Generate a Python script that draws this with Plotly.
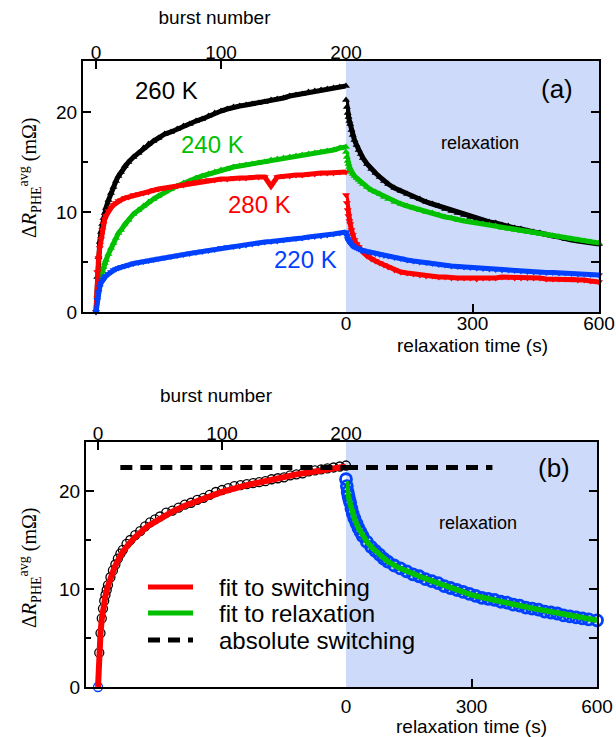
import plotly.graph_objects as go

W, H = 616, 737

# ---- switching (burst) data, panel (a) ----
bursts = [0, 1, 2, 3, 4, 5, 6, 7, 8, 10, 12, 14, 16, 18, 20, 23, 26, 30, 34, 38, 42, 46, 50,
          55, 60, 65, 70, 75, 80, 85, 90, 95, 100, 105, 110, 115, 120, 125, 130, 135, 140,
          145, 150, 155, 160, 165, 170, 175, 180, 185, 190, 195, 200]
sw_260 = [0, 3.5, 5.5, 7.0, 8.0, 8.8, 9.4, 9.9, 10.4, 11.2, 11.9, 12.5, 13.1, 13.6, 14.0,
          14.6, 15.0, 15.5, 15.9, 16.4, 16.8, 17.1, 17.4,
          17.8, 18.0, 18.3, 18.6, 18.8, 19.1, 19.3, 19.6, 19.9, 20.1,
          20.3, 20.5, 20.6, 20.7, 20.8, 20.9, 21.0, 21.2, 21.3, 21.4,
          21.6, 21.7, 21.8, 22.0, 22.1, 22.2, 22.3, 22.4, 22.5, 22.6]
sw_240 = [0, 1.7, 2.5, 3.1, 3.6, 4.1, 4.5, 4.9, 5.2, 5.8, 6.4, 6.9, 7.4, 7.9, 8.2,
          8.8, 9.2, 9.8, 10.2, 10.6, 11.0, 11.3, 11.6,
          12.0, 12.3, 12.6, 12.9, 13.1, 13.4, 13.6, 13.8, 14.0, 14.2,
          14.3, 14.5, 14.6, 14.7, 14.8, 14.9, 15.0, 15.2, 15.3, 15.4,
          15.5, 15.6, 15.7, 15.8, 15.9, 16.0, 16.1, 16.2, 16.4, 16.5]
sw_280 = [0, 4.0, 5.4, 6.4, 7.3, 8.2, 8.8, 9.3, 9.6, 10.1, 10.4, 10.7, 10.9, 11.1, 11.2,
          11.4, 11.5, 11.7, 11.8, 11.9, 12.0, 12.2, 12.3,
          12.4, 12.5, 12.6, 12.7, 12.9, 13.0, 13.1, 13.2, 13.2, 13.3,
          13.3, 13.4, 13.4, 13.4, 13.5, 13.5, 13.5, 12.6, 13.5, 13.6,
          13.6, 13.7, 13.7, 13.8, 13.8, 13.9, 13.9, 13.9, 14.0, 14.0]
sw_220 = [0, 1.2, 2.0, 2.5, 2.9, 3.1, 3.3, 3.5, 3.6, 3.8, 4.0, 4.2, 4.3, 4.4, 4.5,
          4.6, 4.7, 4.85, 4.95, 5.05, 5.15, 5.25, 5.35,
          5.45, 5.55, 5.65, 5.75, 5.85, 5.95, 6.05, 6.15, 6.25, 6.4,
          6.5, 6.55, 6.6, 6.7, 6.8, 6.9, 7.0, 7.05, 7.1, 7.2,
          7.3, 7.35, 7.4, 7.5, 7.55, 7.6, 7.7, 7.8, 7.9, 8.0]

# ---- relaxation data (time after the last burst, s) ----
relax_t = [0, 2, 4, 6, 8, 10, 13, 16, 20, 25, 30, 35, 40, 50, 60, 70, 80, 90, 100,
           115, 130, 145, 160, 175, 190, 205, 220, 235, 250, 265, 280, 295, 310, 325,
           340, 355, 370, 385, 400, 415, 430, 445, 460, 475, 490, 505, 520, 535, 550,
           565, 580, 600]
rx_260 = [21.2, 20.5, 19.9, 19.5, 19.1, 18.8, 18.2, 17.7, 17.2, 16.7, 16.2, 15.8, 15.4,
          14.8, 14.3, 13.9, 13.5, 13.1, 12.8,
          12.4, 12.1, 11.8, 11.5, 11.3, 11.0, 10.8, 10.6, 10.3, 10.1, 9.9, 9.7, 9.5, 9.3,
          9.1, 9.0, 8.9, 8.7, 8.6, 8.4, 8.3, 8.1, 8.0, 7.9, 7.7, 7.6, 7.5, 7.3, 7.2, 7.1,
          7.0, 6.9, 6.8]
rx_240 = [16.0, 15.5, 15.1, 14.8, 14.5, 14.3, 14.0, 13.8, 13.6, 13.4, 13.2, 13.0, 12.8,
          12.5, 12.2, 12.0, 11.8, 11.5, 11.3,
          11.0, 10.8, 10.6, 10.4, 10.2, 10.0, 9.9, 9.7, 9.5, 9.4, 9.2, 9.1, 9.0, 8.9,
          8.8, 8.7, 8.6, 8.4, 8.3, 8.2, 8.1, 8.0, 7.9, 7.8, 7.7, 7.6, 7.5, 7.4, 7.3, 7.2,
          7.1, 7.0, 6.9]
rx_280 = [11.7, 10.9, 10.2, 9.6, 9.1, 8.8, 8.2, 7.7, 7.2, 6.8, 6.5, 6.2, 6.0,
          5.6, 5.3, 5.1, 4.9, 4.7, 4.5,
          4.2, 4.0, 3.9, 3.8, 3.7, 3.6, 3.6, 3.5, 3.5, 3.4, 3.4, 3.4, 3.4, 3.3,
          3.4, 3.4, 3.4, 3.5, 3.5, 3.4, 3.4, 3.4, 3.4, 3.4, 3.3, 3.3, 3.3, 3.3, 3.3, 3.2,
          3.2, 3.1, 3.0]
rx_220 = [7.9, 7.6, 7.3, 7.1, 7.0, 6.9, 6.7, 6.6, 6.5, 6.4, 6.3, 6.2, 6.15,
          6.05, 5.95, 5.85, 5.75, 5.65, 5.6,
          5.45, 5.35, 5.2, 5.1, 5.0, 4.95, 4.85, 4.75, 4.7, 4.6, 4.55, 4.5, 4.45, 4.4,
          4.35, 4.3, 4.25, 4.2, 4.2, 4.15, 4.1, 4.05, 4.0, 4.0, 3.95, 3.95, 3.9, 3.9,
          3.85, 3.8, 3.8, 3.75, 3.7]

# ---- fits to the 260 K curves, panel (b) ----
fit_bursts = [0, 0.5, 1, 1.5, 2, 3, 4, 5, 6, 8, 10, 13, 16, 20, 25, 30, 40, 50, 60, 70,
              80, 90, 100, 120, 140, 160, 180, 200]
fit_switch = [0, 2.2, 3.5, 4.6, 5.5, 6.9, 7.9, 8.7, 9.3, 10.3, 11.1, 12.1, 12.9, 13.8,
              14.6, 15.3, 16.4, 17.2, 17.9, 18.5, 19.0, 19.5, 19.9, 20.6, 21.2, 21.7,
              22.1, 22.5]
fit_t = [0, 2, 5, 10, 15, 20, 30, 40, 50, 65, 80, 100, 125, 150, 175, 200, 250, 300,
         350, 400, 450, 500, 550, 600]
fit_relax = [21.0, 20.3, 19.6, 18.7, 17.9, 17.2, 16.2, 15.4, 14.8, 14.1, 13.5, 12.8,
             12.2, 11.7, 11.3, 10.9, 10.1, 9.4, 8.9, 8.4, 8.0, 7.6, 7.2, 6.8]
abs_level = 22.4
abs_burst = [18, 200]
abs_t = [0, 350]

# ---- styling ----
BLACK = "#000000"
RED = "#ff0000"
GREEN = "#00c000"
BLUE = "#0040ff"
SHADE = "#cddafa"
SANS = "Liberation Sans, Arial, sans-serif"
SERIF = "Liberation Serif, Times New Roman, serif"

series_a = [
    ("260 K", sw_260, rx_260, BLACK, "triangle-up"),
    ("240 K", sw_240, rx_240, GREEN, "triangle-up"),
    ("280 K", sw_280, rx_280, RED, "triangle-down"),
    ("220 K", sw_220, rx_220, BLUE, "triangle-down"),
]

fig = go.Figure()

for name, sw, rx, col, sym in series_a:
    common = dict(mode="lines+markers", name=name, showlegend=False,
                  line=dict(color=col, width=5),
                  marker=dict(symbol=sym, size=7, color=col, line=dict(width=0)),
                  cliponaxis=False)
    fig.add_trace(go.Scatter(x=bursts, y=sw, xaxis="x", yaxis="y", **common))
    fig.add_trace(go.Scatter(x=relax_t, y=rx, xaxis="x2", yaxis="y2", **common))

# panel (b): measured 260 K curve with fits
fig.add_trace(go.Scatter(x=bursts[1:], y=sw_260[1:], xaxis="x3", yaxis="y3",
                         mode="markers", showlegend=False, cliponaxis=False,
                         marker=dict(symbol="circle-open", size=9, color=BLACK,
                                     line=dict(color=BLACK, width=1.3))))
fig.add_trace(go.Scatter(x=bursts[:1], y=sw_260[:1], xaxis="x3", yaxis="y3",
                         mode="markers", showlegend=False, cliponaxis=False,
                         marker=dict(symbol="circle-open", size=9, color=BLUE,
                                     line=dict(color=BLUE, width=1.3))))
fig.add_trace(go.Scatter(x=relax_t, y=rx_260, xaxis="x4", yaxis="y4",
                         mode="markers", showlegend=False, cliponaxis=False,
                         marker=dict(symbol="circle-open", size=11, color=BLUE,
                                     line=dict(color=BLUE, width=2.8))))
fig.add_trace(go.Scatter(x=fit_bursts, y=fit_switch, xaxis="x3", yaxis="y3",
                         mode="lines", name="fit to switching", showlegend=False,
                         line=dict(color=RED, width=6)))
fig.add_trace(go.Scatter(x=fit_t, y=fit_relax, xaxis="x4", yaxis="y4",
                         mode="lines", name="fit to relaxation", showlegend=False,
                         line=dict(color=GREEN, width=5.5)))
fig.add_trace(go.Scatter(x=abs_burst, y=[abs_level] * 2, xaxis="x3", yaxis="y3",
                         mode="lines", name="absolute switching", showlegend=False,
                         line=dict(color=BLACK, width=5, dash="12px,8px")))
fig.add_trace(go.Scatter(x=abs_t, y=[abs_level] * 2, xaxis="x4", yaxis="y4",
                         mode="lines", showlegend=False,
                         line=dict(color=BLACK, width=5, dash="12px,8px")))

tick_font = dict(family=SANS, size=19, color="black")
base = dict(showline=True, linecolor="black", linewidth=2, ticks="inside",
            tickcolor="black", tickwidth=2, ticklen=8, showgrid=False, zeroline=False,
            tickfont=tick_font, automargin=False, fixedrange=True)


def ydom(top, bottom):
    return [1 - bottom / H, 1 - top / H]


def title(text, standoff):
    return dict(text=text, font=dict(family=SANS, size=19, color="black"),
                standoff=standoff)


fig.update_layout(
    width=W, height=H, margin=dict(l=0, r=0, t=0, b=0),
    paper_bgcolor="white", plot_bgcolor="white", showlegend=False,
    # panel (a)
    xaxis=dict(base, domain=[83 / W, 346 / W], range=[-10.4, 200], side="top",
               anchor="y", tickvals=[0, 100, 200], mirror=True,
               title=title("burst number", 13), ticklabelstandoff=-8),
    xaxis2=dict(base, domain=[346 / W, 599 / W], range=[0, 600], side="bottom",
                anchor="y2", tickvals=[0, 300, 600], mirror=True,
                title=title("relaxation time (s)", 6), ticklabelstandoff=-7),
    yaxis=dict(base, domain=ydom(61, 312), range=[0, 25.1], anchor="x", side="left",
               tickvals=[0, 10, 20],
               minor=dict(tickvals=[5, 15], ticks="inside", ticklen=5, tickwidth=2,
                          tickcolor="black")),
    yaxis2=dict(base, domain=ydom(61, 312), range=[0, 25.1], anchor="x2", side="right",
                tickvals=[5, 10, 15, 20], showticklabels=False),
    # panel (b)
    xaxis3=dict(base, domain=[86 / W, 346 / W], range=[-9.7, 200], side="top",
                anchor="y3", tickvals=[0, 100, 200], mirror=True,
                title=title("burst number", 16), ticklabelstandoff=-8),
    xaxis4=dict(base, domain=[346 / W, 597 / W], range=[0, 600], side="bottom",
                anchor="y4", tickvals=[0, 300, 600], mirror=True,
                title=title("relaxation time (s)", 6), ticklabelstandoff=1),
    yaxis3=dict(base, domain=ydom(442, 687), range=[0, 25], anchor="x3", side="left",
                tickvals=[0, 10, 20],
                minor=dict(tickvals=[5, 15], ticks="inside", ticklen=5, tickwidth=2,
                           tickcolor="black")),
    yaxis4=dict(base, domain=ydom(442, 687), range=[0, 25], anchor="x4", side="right",
                tickvals=[5, 10, 15, 20], showticklabels=False),
)

# shaded relaxation regions
for xr, yr in (("x2", "y2"), ("x4", "y4")):
    fig.add_shape(type="rect", xref=f"{xr} domain", yref=f"{yr} domain",
                  x0=0, x1=1, y0=0, y1=1, fillcolor=SHADE, line=dict(width=0),
                  layer="below")


def ann(text, px, py, size, color="black", family=SANS, angle=0, xanchor="center"):
    fig.add_annotation(text=text, x=px / W, y=1 - py / H, xref="paper", yref="paper",
                       showarrow=False, font=dict(family=family, size=size, color=color),
                       textangle=angle, xanchor=xanchor, yanchor="middle")


ylabel = "Δ<i>R</i><sub>PHE</sub><sup>avg</sup> (mΩ)"
ann(ylabel, 30, 178, 20, family=SERIF, angle=-90)
ann(ylabel, 30, 568, 20, family=SERIF, angle=-90)

ann("260 K", 166, 90, 24, BLACK)
ann("240 K", 212, 144, 24, GREEN)
ann("280 K", 259, 205, 24, RED)
ann("220 K", 305, 260, 24, BLUE)
ann("(a)", 557, 89, 26)
ann("relaxation", 480, 143, 18)
ann("(b)", 554, 468, 26)
ann("relaxation", 478, 523, 18)

# legend for panel (b)
legend_rows = [("fit to switching", RED, "solid", 587),
               ("fit to relaxation", GREEN, "solid", 613),
               ("absolute switching", BLACK, "12px,8px", 640)]
for label, col, dash, py in legend_rows:
    fig.add_shape(type="line", xref="paper", yref="paper",
                  x0=148 / W, x1=193 / W, y0=1 - py / H, y1=1 - py / H,
                  line=dict(color=col, width=5, dash=dash))
    ann(label, 217, py, 24, xanchor="left")

fig.write_html("out.html")
